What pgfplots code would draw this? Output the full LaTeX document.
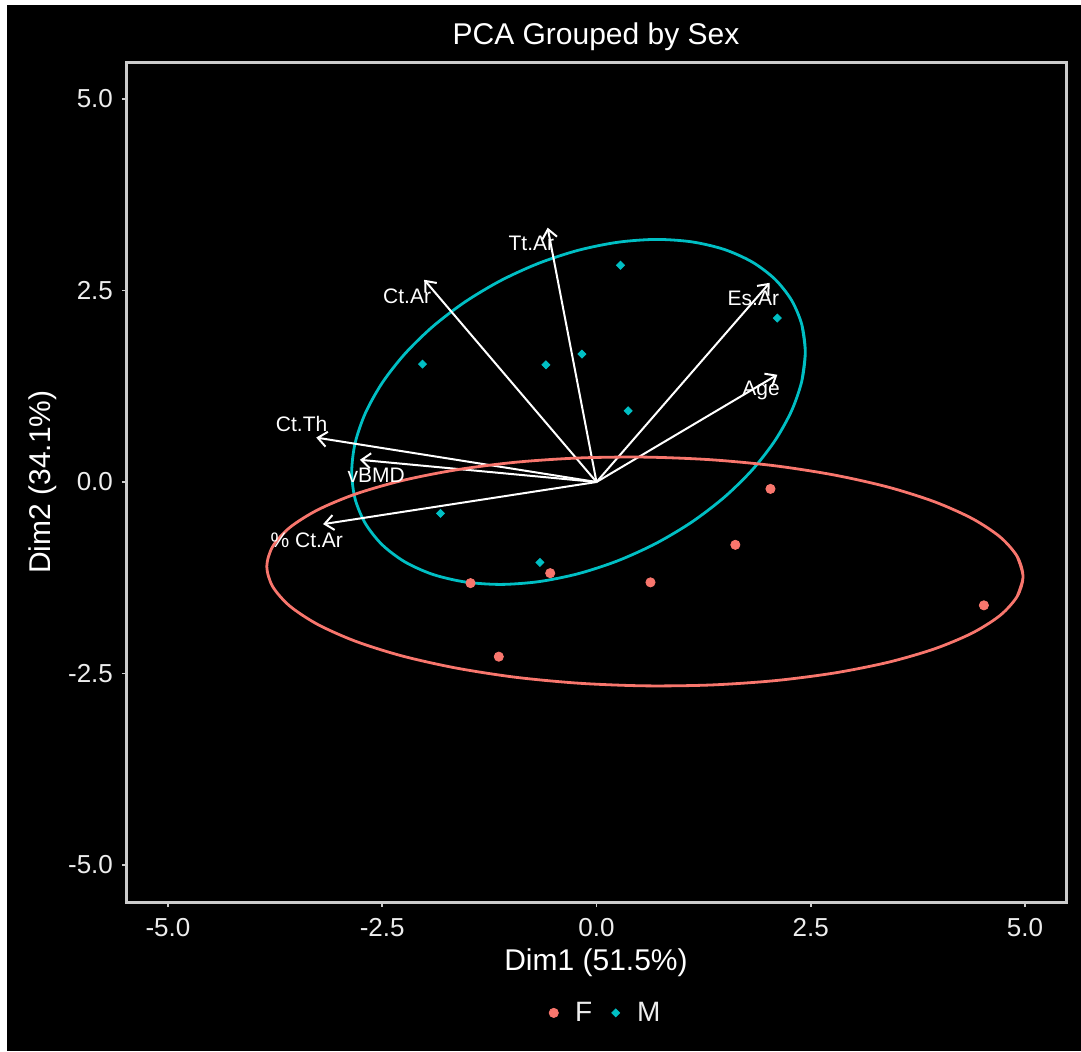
\documentclass[border=0pt]{standalone}
\usepackage{fontspec}
\setmainfont{Liberation Sans}
\usepackage{pgfplots}
\pgfplotsset{compat=1.18}
\usetikzlibrary{arrows.meta}
\definecolor{fcol}{HTML}{F8766D}
\definecolor{mcol}{HTML}{00BFC4}
\definecolor{framecol}{HTML}{CCCCCC}
\definecolor{txtcol}{HTML}{EDEDED}
\begin{document}
\begin{tikzpicture}
\begin{scope}[x=0.5pt,y=0.5pt,shift={(-63.5pt,-74.5pt)}]
\fill[white] (0,0) rectangle (1081,1051);
\fill[black] (7,0) rectangle (1081,1046);
\end{scope}
\begin{axis}[
  at={(0pt,0pt)}, anchor=south west,
  scale only axis, width=469.5pt, height=420pt,
  xmin=-5.478, xmax=5.478, ymin=-5.483, ymax=5.483,
  xtick={-5,-2.5,0,2.5,5}, ytick={-5,-2.5,0,2.5,5},
  xticklabels={-5.0,-2.5,0.0,2.5,5.0},
  yticklabels={-5.0,-2.5,0.0,2.5,5.0},
  xtick pos=lower, ytick pos=left, tick align=outside,
  major tick length=2.5pt,
  tick style={framecol, line width=0.9pt},
  axis line style={framecol, line width=1.5pt},
  ticklabel style={text=txtcol, font=\fontsize{13}{15}\selectfont},
  xticklabel style={yshift=-2pt},
  yticklabel style={xshift=-1pt},
  /pgf/number format/assume math mode=true,
  legend style={at={(0.510,-0.132)}, anchor=center, draw=none, fill=none,
    text=txtcol, font=\fontsize{14}{16}\selectfont, legend columns=2,
    /tikz/every even column/.append style={column sep=6.5pt}},
  legend image code/.code={\draw[#1] plot coordinates {(0pt,0pt)}; \path (-3pt,0pt) (8.5pt,0pt);},
  clip=false,
]
% points
\addplot[only marks, mark=*, mark size=2.3pt, fcol] coordinates {
(2.03,-0.09) (1.62,-0.82) (4.52,-1.61) (0.63,-1.31) (-0.54,-1.19) (-1.47,-1.32) (-1.14,-2.28)
};
\addlegendentry{F}
\addplot[only marks, mark=square*, mark size=1.4pt, mark options={rotate=45}, mcol] coordinates {
(0.28,2.83) (2.11,2.14) (-2.03,1.54) (-0.59,1.53) (-0.17,1.67) (0.37,0.93) (-1.82,-0.41) (-0.66,-1.05)
};
\addlegendentry{M}
% M ellipse
\addplot[smooth, mcol, line width=1.4pt, forget plot] coordinates {
(2.396,1.320)
(2.436,1.698) (2.396,2.053) (2.276,2.373) (2.081,2.649) (1.817,2.872) (1.491,3.036)
(1.113,3.135) (0.695,3.167) (0.249,3.130) (-0.210,3.026) (-0.669,2.858) (-1.115,2.631)
(-1.533,2.352) (-1.911,2.029) (-2.237,1.672) (-2.501,1.293) (-2.696,0.901) (-2.816,0.510)
(-2.856,0.132) (-2.816,-0.223) (-2.696,-0.543) (-2.501,-0.819) (-2.237,-1.042) (-1.911,-1.206)
(-1.533,-1.305) (-1.115,-1.337) (-0.669,-1.300) (-0.210,-1.196) (0.249,-1.028) (0.695,-0.801)
(1.113,-0.522) (1.491,-0.199) (1.817,0.158) (2.081,0.538) (2.276,0.929) (2.396,1.320)
(2.436,1.698) (2.396,2.053)
};
% arrows
\pgfplotsset{arr/.style={white, line width=1pt, -{Straight Barb[length=4.5pt,width=7.5pt,line width=1pt]}, forget plot}}
\addplot[arr] coordinates {(0,0) (-0.57,3.32)};
\addplot[arr] coordinates {(0,0) (-2.01,2.64)};
\addplot[arr] coordinates {(0,0) (2.02,2.60)};
\addplot[arr] coordinates {(0,0) (2.11,1.40)};
\addplot[arr] coordinates {(0,0) (-3.27,0.58)};
\addplot[arr] coordinates {(0,0) (-2.76,0.29)};
\addplot[arr] coordinates {(0,0) (-3.19,-0.55)};
% F ellipse
\addplot[smooth, fcol, line width=1.4pt, forget plot] coordinates {
(4.909,-1.492)
(4.977,-1.234) (4.909,-0.973) (4.711,-0.719) (4.385,-0.478) (3.944,-0.258) (3.401,-0.066)
(2.771,0.092) (2.074,0.213) (1.331,0.291) (0.565,0.325) (-0.201,0.314) (-0.944,0.258)
(-1.641,0.158) (-2.271,0.018) (-2.814,-0.158) (-3.255,-0.365) (-3.581,-0.596) (-3.779,-0.844)
(-3.847,-1.103) (-3.779,-1.363) (-3.581,-1.617) (-3.255,-1.858) (-2.814,-2.078) (-2.271,-2.270)
(-1.641,-2.428) (-0.944,-2.549) (-0.201,-2.627) (0.565,-2.661) (1.331,-2.650) (2.074,-2.594)
(2.771,-2.494) (3.401,-2.354) (3.944,-2.178) (4.385,-1.971) (4.711,-1.740) (4.909,-1.492)
(4.977,-1.234) (4.909,-0.973)
};
% arrow labels
\begin{scope}[every node/.style={text=white, font=\fontsize{10.5}{12}\selectfont, inner sep=0pt}]
\node at (axis cs:-0.76,3.12) {Tt.Ar};
\node at (axis cs:-2.21,2.43) {Ct.Ar};
\node at (axis cs:1.83,2.40) {Es.Ar};
\node at (axis cs:1.92,1.20) {Age};
\node at (axis cs:-3.44,0.76) {Ct.Th};
\node at (axis cs:-2.57,0.09) {vBMD};
\node at (axis cs:-3.38,-0.76) {\% Ct.Ar};
\end{scope}
\end{axis}
\begin{scope}[x=0.5pt,y=0.5pt,shift={(-63.5pt,-74.5pt)}]
\node[text=white, font=\fontsize{15}{18}\selectfont] at (596,1014) {PCA Grouped by Sex};
\node[text=white, font=\fontsize{15}{18}\selectfont] at (596,88) {Dim1 (51.5\%)};
\node[text=white, font=\fontsize{15}{18}\selectfont, rotate=90] at (43,569) {Dim2 (34.1\%)};
\end{scope}
\end{tikzpicture}
\end{document}
